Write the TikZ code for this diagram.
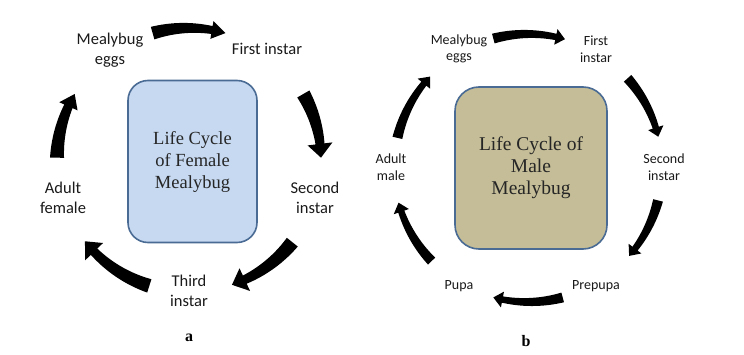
\documentclass[tikz,border=0pt]{standalone}
\usepackage{fontspec}
\setmainfont{Liberation Serif}
\newfontfamily\labfont{Carlito}
\usetikzlibrary{calc}
\definecolor{boxblue}{HTML}{C6D9F1}
\definecolor{boxkhaki}{HTML}{C4BD97}
\definecolor{boxedge}{HTML}{4A6B94}
\definecolor{labtext}{HTML}{1A1A1A}
% #1 centre, #2 radius, #3 tail angle, #4 neck angle, #5 tip angle,
% #6 tail half-width, #7 neck half-width, #8 head half-width
\newcommand\cycarrow[8]{%
  \begin{scope}[shift={(#1)}]
    \fill[arrowfill]
      plot[variable=\t,domain=#3:#4,samples=24] (\t:{#2+#6+(#7-#6)*(\t-(#3))/((#4)-(#3))})
      -- (#4:{#2+#8}) -- (#5:#2) -- (#4:{#2-#8})
      -- plot[variable=\t,domain=#4:#3,samples=24] (\t:{#2-#6-(#7-#6)*(\t-(#3))/((#4)-(#3))})
      -- cycle;
  \end{scope}}
\begin{document}
\begin{tikzpicture}[x=1pt,y=-1pt,
  arrowfill/.style={fill=black},
  biglab/.style={font=\labfont\fontsize{16.5}{19.5}\selectfont,align=center,text=labtext,inner sep=0pt},
  smalllab/.style={font=\labfont\fontsize{14}{16.5}\selectfont,align=center,text=labtext,inner sep=0pt},
  lifebox/.style={draw=boxedge,line width=1.6pt,align=center,inner sep=0pt,
    font=\fontsize{18.5}{22}\selectfont,text=black!85},
  panel/.style={font=\bfseries\fontsize{16}{18}\selectfont,inner sep=0pt}]
\useasboundingbox[fill=white] (0,0) rectangle (744,355);

% ---------- panel a ----------
\coordinate (ca) at (189,160);
\node[lifebox,fill=boxblue,rounded corners=20pt,minimum width=129pt,minimum height=162pt]
  (boxa) at (192.5,161.5) {Life Cycle\\of Female\\Mealybug};
\node[biglab] (a1) at (110,50) {Mealybug\\eggs};
\node[biglab] (a2) at (267,49) {First instar};
\node[biglab] (a3) at (315,198) {Second\\instar};
\node[biglab] (a4) at (189,291) {Third\\instar};
\node[biglab] (a5) at (63,198) {Adult\\female};
\node[panel] (pa) at (189,338) {a};

\cycarrow{ca}{132}{-106}{-80}{-74}{6.5}{4}{9}
\cycarrow{ca}{132}{-30}{-7}{-1}{7}{4.5}{12.5}
\cycarrow{ca}{132}{38.5}{65}{71}{7}{4.5}{12.5}
\cycarrow{ca}{132}{107.5}{136}{142}{7}{4.5}{12.5}
\cycarrow{ca}{132}{181}{204}{210}{7}{4.5}{10}

% ---------- panel b ----------
\coordinate (cb) at (528,168);
\node[lifebox,fill=boxkhaki,rounded corners=24pt,minimum width=152pt,minimum height=162pt,
  font=\fontsize{19.5}{22}\selectfont]
  (boxb) at (531,168) {Life Cycle of\\Male\\Mealybug};
\node[smalllab] (b1) at (459,49) {Mealybug\\eggs};
\node[smalllab] (b2) at (596,49) {First\\instar};
\node[smalllab] (b3) at (664,167) {Second\\instar};
\node[smalllab] (b4) at (596,286) {Prepupa};
\node[smalllab] (b5) at (459,286) {Pupa};
\node[smalllab] (b6) at (391,167) {Adult\\male};
\node[panel] (pb) at (526,341) {b};

\cycarrow{cb}{134}{-105}{-78}{-74}{5}{3.2}{8}
\cycarrow{cb}{134}{-42}{-17.5}{-13.5}{5}{3.2}{8}
\cycarrow{cb}{134}{14}{37}{41}{5}{3.2}{8}
\cycarrow{cb}{134}{75}{101}{105}{5}{3.2}{8}
\cycarrow{cb}{134}{136}{161}{165}{5}{3.2}{8}
\cycarrow{cb}{134}{193}{219}{223}{5}{3.2}{8}
\end{tikzpicture}
\end{document}
